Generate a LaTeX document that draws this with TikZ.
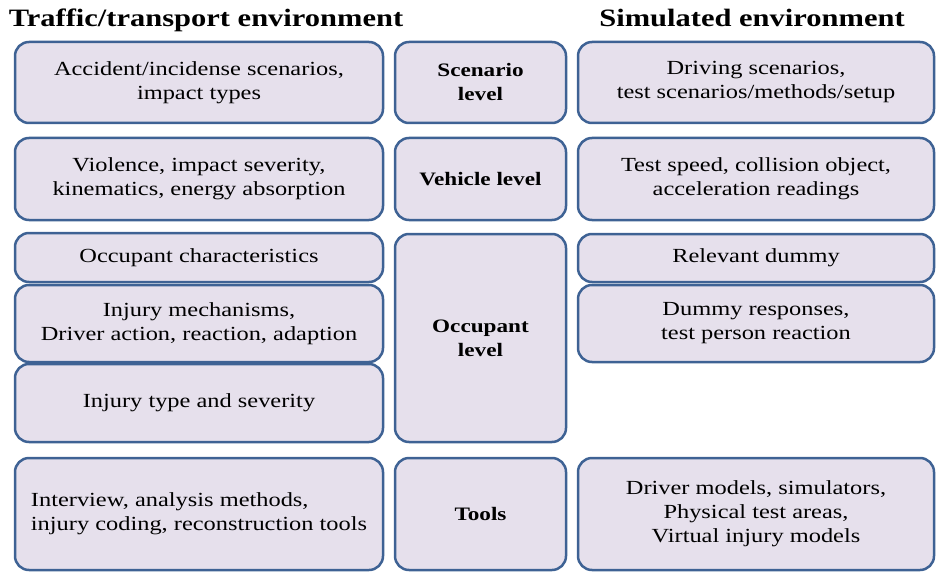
\documentclass[tikz,border=0pt]{standalone}
\usepackage{fontspec}
\setmainfont{Liberation Serif}[FakeStretch=1.22, BoldFont={Liberation Serif Bold}]

\definecolor{boxfill}{RGB}{230,224,236}
\definecolor{boxline}{RGB}{62,98,148}

\tikzset{
  infobox/.style={draw=boxline, fill=boxfill, line width=2.5pt, rounded corners=14pt,
    align=center, inner sep=0pt, font=\fontsize{20}{24}\selectfont},
  levelbox/.style={infobox, font=\fontsize{19}{24}\selectfont\bfseries},
  heading/.style={anchor=base, font=\fontsize{25}{28}\selectfont\bfseries}
}

\begin{document}
\begin{tikzpicture}[x=1pt, y=-1pt]
    \useasboundingbox (0,0) rectangle (936,572);

    % Headings
    \node[heading] (trafficenv) at (206,27) {Traffic/transport environment};
    \node[heading] (simenv) at (752,27) {Simulated environment};

    % Scenario level
    \node[infobox, minimum width=368pt, minimum height=81pt] (accident) at (199,82.5)
        {Accident/incidense scenarios,\\ impact types};
    \node[levelbox, minimum width=171pt, minimum height=81pt] (scenario) at (480.5,82.5)
        {Scenario\\ level};
    \node[infobox, minimum width=356pt, minimum height=81pt] (driving) at (756,82.5)
        {Driving scenarios,\\ test scenarios/methods/setup};

    % Vehicle level
    \node[infobox, minimum width=368pt, minimum height=82pt] (violence) at (199,179)
        {Violence, impact severity,\\ kinematics, energy absorption};
    \node[levelbox, minimum width=171pt, minimum height=82pt] (vehicle) at (480.5,179)
        {Vehicle level};
    \node[infobox, minimum width=356pt, minimum height=82pt] (testspeed) at (756,179)
        {Test speed, collision object,\\ acceleration readings};

    % Occupant level
    \node[infobox, minimum width=368pt, minimum height=49pt] (occchar) at (199,257.5)
        {Occupant characteristics};
    \node[infobox, minimum width=368pt, minimum height=77pt] (mechanism) at (199,323.5)
        {Injury mechanisms,\\ Driver action, reaction, adaption};
    \node[infobox, minimum width=368pt, minimum height=78pt] (injtype) at (199,403)
        {Injury type and severity};
    \node[levelbox, minimum width=171pt, minimum height=208pt] (occupant) at (480.5,338)
        {Occupant\\ level};
    \node[infobox, minimum width=356pt, minimum height=48pt] (dummy) at (756,258)
        {Relevant dummy};
    \node[infobox, minimum width=356pt, minimum height=77pt] (response) at (756,323.5)
        {Dummy responses,\\ test person reaction};

    % Tools
    \node[infobox, minimum width=368pt, minimum height=112pt, align=left] (interview) at (199,514)
        {Interview, analysis methods,\\ injury coding, reconstruction tools};
    \node[levelbox, minimum width=171pt, minimum height=112pt] (tools) at (480.5,514)
        {Tools};
    \node[infobox, minimum width=356pt, minimum height=112pt] (models) at (756,514)
        {Driver models, simulators,\\ Physical test areas,\\ Virtual injury models};
\end{tikzpicture}
\end{document}
